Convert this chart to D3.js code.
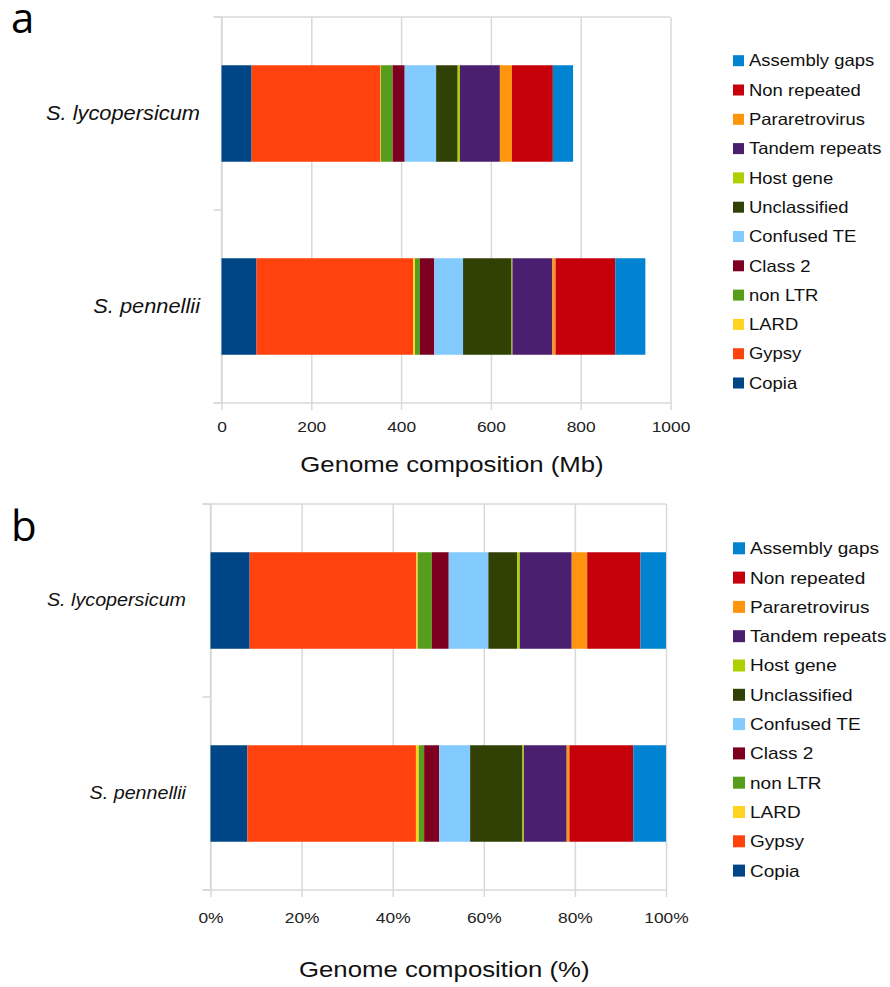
<!DOCTYPE html>
<html>
<head>
<meta charset="utf-8">
<script src="https://cdn.jsdelivr.net/npm/d3@7"></script>
<style>
  body { margin: 0; background: #fff; }
  svg { font-family: "Liberation Sans", Arial, sans-serif; }
  .grid line, .frame { stroke: #d9d9d9; stroke-width: 1.5; }
  .tick-labels text { fill: #222; }
</style>
</head>
<body>
<svg id="chart" width="890" height="987"></svg>
<script>
const categories = ["S. lycopersicum", "S. pennellii"];
const components = ["Copia", "Gypsy", "LARD", "non LTR", "Class 2", "Confused TE",
  "Unclassified", "Host gene", "Tandem repeats", "Pararetrovirus", "Non repeated", "Assembly gaps"];
const colors = ["#004586", "#ff420e", "#ffd320", "#579d1c", "#7e0021", "#83caff",
  "#314004", "#aecf00", "#4b1f6f", "#ff950e", "#c5000b", "#0084d1"];

// panel a, Mb
const mbLycopersicum = [67, 287, 1, 26, 27, 70, 48, 5, 89, 27, 91, 45];
const mbPennellii = [78, 349, 4, 11, 32, 64, 108, 2, 89, 7, 133, 67];
const mbTicks = [0, 200, 400, 600, 800, 1000];

// panel b, %
const pctLycopersicum = [8.6, 36.6, 0.3, 3.1, 3.7, 8.7, 6.3, 0.6, 11.4, 3.4, 11.7, 5.6];
const pctPennellii = [8.1, 37.0, 0.6, 1.2, 3.3, 6.8, 11.5, 0.3, 9.4, 0.6, 14.0, 7.2];
const pctTicks = [0, 20, 40, 60, 80, 100];

const sx = 1.12; // the figure text is a bit wider than plain Arial

const svg = d3.select("#chart");

const panels = [
  { letter: "a", letterY: 33, x0: 221.5, x1: 670.5, top: 17, bottom: 403, domain: [0, 1000],
    ticks: mbTicks, fmt: d3.format("d"), rows: [mbLycopersicum, mbPennellii],
    title: "Genome composition (Mb)", tickY: 432, titleY: 472, labelX: 200, labelSize: 19.5,
    legendX: 733, legendTop: 60.7, legendSq: 11, legendSize: 16.5 },
  { letter: "b", letterY: 541, x0: 210.5, x1: 666, top: 504, bottom: 890, domain: [0, 100],
    ticks: pctTicks, fmt: d => d + "%", rows: [pctLycopersicum, pctPennellii],
    title: "Genome composition (%)", tickY: 923, titleY: 977, labelX: 186, labelSize: 17.6,
    legendX: 733, legendTop: 548.3, legendSq: 12, legendSize: 17 }
];

panels.forEach(p => {
  const g = svg.append("g");

  const x = d3.scaleLinear().domain(p.domain).range([p.x0, p.x1]);
  const y = d3.scaleBand().domain(categories).range([p.top, p.bottom])
    .paddingInner(0.5).paddingOuter(0.25);

  const table = categories.map((c, i) => {
    const row = { category: c };
    components.forEach((k, j) => row[k] = p.rows[i][j]);
    return row;
  });
  const series = d3.stack().keys(components)(table);

  // grid + ticks under the axis
  g.append("g")
    .attr("class", "grid")
    .attr("transform", `translate(0,${p.top})`)
    .call(d3.axisBottom(x).tickValues(p.ticks).tickSize(p.bottom - p.top + 7).tickFormat(""))
    .call(a => a.select(".domain").remove());

  g.append("line").attr("class", "frame")
    .attr("x1", p.x0 - 8).attr("x2", p.x1).attr("y1", p.bottom).attr("y2", p.bottom);
  g.append("line").attr("class", "frame")
    .attr("x1", p.x0 - 8).attr("x2", p.x1).attr("y1", p.top).attr("y2", p.top);
  g.append("line").attr("class", "frame")
    .attr("x1", p.x0).attr("x2", p.x0).attr("y1", p.top).attr("y2", p.bottom);

  // category boundary ticks
  const step = y.step();
  const bounds = [p.top].concat(categories.map(c => y(c) + y.bandwidth() + (step - y.bandwidth()) / 2));
  g.selectAll(".cat-tick").data(bounds).join("line")
    .attr("class", "frame")
    .attr("x1", p.x0 - 8).attr("x2", p.x0)
    .attr("y1", d => d).attr("y2", d => d);

  // bars
  g.selectAll(".series").data(series).join("g")
    .attr("class", "series")
    .attr("fill", (d, i) => colors[i])
    .selectAll("rect").data(d => d).join("rect")
    .attr("x", d => x(d[0]))
    .attr("width", d => x(d[1]) - x(d[0]))
    .attr("y", d => y(d.data.category))
    .attr("height", y.bandwidth());

  // tick labels
  g.append("g")
    .attr("class", "tick-labels")
    .attr("transform", `translate(0,${p.tickY})`)
    .call(d3.axisBottom(x).tickValues(p.ticks).tickFormat(p.fmt).tickSize(0))
    .call(a => a.select(".domain").remove())
    .selectAll("text")
    .attr("y", 0).attr("dy", 0)
    .attr("font-size", 15.5)
    .attr("font-family", "Liberation Sans, Arial, sans-serif")
    .attr("transform", `scale(${sx},1)`);

  // category labels
  g.append("g")
    .attr("transform", `translate(${p.labelX},0)`)
    .call(d3.axisLeft(y).tickSize(0).tickPadding(0))
    .call(a => a.select(".domain").remove())
    .selectAll("text")
    .attr("fill", "#111")
    .attr("font-size", p.labelSize)
    .attr("font-style", "italic")
    .attr("font-family", "Liberation Sans, Arial, sans-serif")
    .attr("transform", `scale(${sx},1)`);

  // axis title
  g.append("text")
    .attr("transform", `translate(${(p.x0 + p.x1) / 2 + 6},${p.titleY}) scale(${sx},1)`)
    .attr("text-anchor", "middle")
    .attr("font-size", 23)
    .attr("fill", "#111")
    .text(p.title);

  // panel letter
  g.append("text")
    .attr("x", 11).attr("y", p.letterY)
    .attr("font-family", "Open Sans, sans-serif")
    .attr("font-size", 42)
    .text(p.letter);

  // legend
  const ly = d3.scalePoint().domain(components.slice().reverse())
    .range([p.legendTop, p.legendTop + 11 * 29.3]);
  const items = g.selectAll(".legend").data(components).join("g")
    .attr("class", "legend")
    .attr("transform", d => `translate(${p.legendX},${ly(d)})`);
  items.append("rect")
    .attr("x", 0).attr("y", -p.legendSq / 2)
    .attr("width", p.legendSq).attr("height", p.legendSq)
    .attr("fill", (d, i) => colors[i]);
  items.append("text")
    .attr("transform", `translate(${p.legendSq + 5},0) scale(${sx},1)`)
    .attr("dy", "0.35em")
    .attr("font-size", p.legendSize)
    .attr("fill", "#111")
    .text(d => d);
});
</script>
</body>
</html>
